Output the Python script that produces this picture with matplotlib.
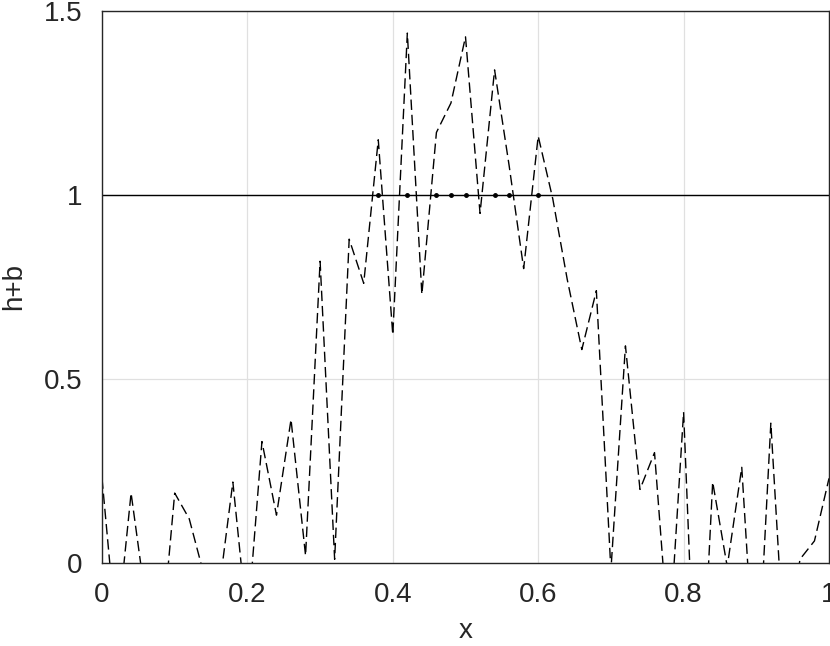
#!/usr/bin/env python3

import numpy as np
import matplotlib
matplotlib.use('Agg')
import matplotlib.pyplot as plt

# sampled every 0.02 from 0 to 1 (values below 0 are clipped by the axes)
x = np.linspace(0, 1, 51)
hb = [0.23, -0.20, 0.19, -0.10, -0.25, 0.19, 0.12, -0.03, -0.09, 0.22,
      -0.17, 0.33, 0.13, 0.39, 0.02, 0.82, 0.01, 0.88, 0.76, 1.15,
      0.62, 1.44, 0.73, 1.17, 1.25, 1.43, 0.95, 1.34, 1.08, 0.80,
      1.16, 0.99, 0.77, 0.58, 0.74, -0.02, 0.59, 0.20, 0.30, -0.22,
      0.41, -0.57, 0.22, -0.01, 0.26, -0.38, 0.38, -0.29, 0.01, 0.06,
      0.23]
level = 1.0

xticks = [0, 0.2, 0.4, 0.6, 0.8, 1]
xticklabels = ['0', '0.2', '0.4', '0.6', '0.8', '1']
yticks = [0, 0.5, 1, 1.5]
yticklabels = ['0', '0.5', '1', '1.5']

plt.rcParams['font.family'] = ['Liberation Sans', 'DejaVu Sans']

fig = plt.figure(figsize=(8.3, 6.46), dpi=100)
ax = fig.add_axes([102 / 830, 1 - 563 / 646, 727 / 830, 552 / 646])

hb = np.array(hb)
ax.plot(x, hb, color='black', lw=1.0, linestyle=(0, (7.5, 3.5)))
ax.plot([0, 1], [level, level], color='black', lw=1.0)
above = hb > level
ax.plot(x[above], np.full(above.sum(), level), 'o', color='black', ms=2.5)

ax.set_xlim(0, 1)
ax.set_ylim(0, 1.5)
ax.set_xticks(xticks)
ax.set_xticklabels(xticklabels)
ax.set_yticks(yticks)
ax.set_yticklabels(yticklabels)
ax.tick_params(length=0, labelsize=20, colors='#262626', pad=14)
ax.grid(True, color='#e0e0e0', lw=0.9)
ax.set_axisbelow(True)
for s in ax.spines.values():
    s.set_color('#262626')
    s.set_linewidth(1.0)

ax.set_xlabel('x', fontsize=20, color='#262626', labelpad=7)
ax.set_ylabel('h+b', fontsize=20, color='#262626', labelpad=12)

fig.savefig('out.png', dpi=100)
